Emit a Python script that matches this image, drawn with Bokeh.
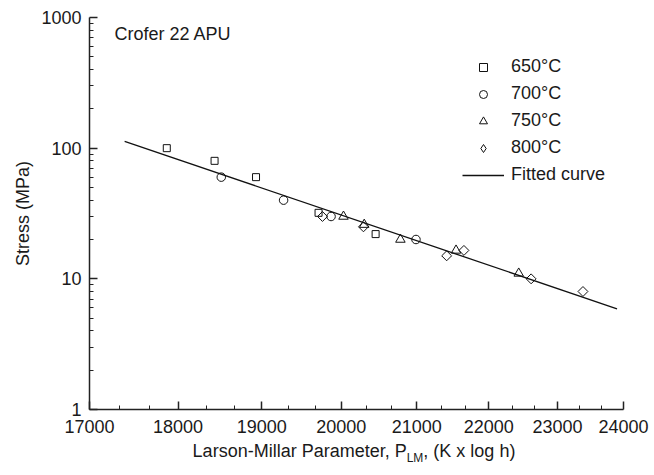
import numpy as np
from bokeh.plotting import figure
from bokeh.layouts import column
from bokeh.models import FixedTicker, NumeralTickFormatter, Legend, LegendItem, Label, Div
from bokeh.embed import file_html
from bokeh.resources import INLINE

FONT = "Liberation Sans"
TXT = "#1a1a1a"

# ---- data (Larson-Miller parameter, stress MPa) ----
p650 = [17870, 18430, 18930, 19710, 20450]
s650 = [100, 80, 60, 32, 22]

p700 = [18510, 19270, 19870, 20990]
s700 = [60, 40, 30, 20]

p750 = [20030, 20300, 20780, 21540, 22430]
s750 = [30, 26, 20, 16.5, 11]

p800 = [19760, 20290, 21410, 21650, 22610, 23380]
s800 = [30, 25, 15, 16.5, 10, 8]

fit_p = [17390, 23900]
fit_s = [112.7, 5.9]

x_ticks = [17000, 18000, 19000, 20000, 21000, 22000, 23000, 24000]
y_ticks = [1, 10, 100, 1000]
legend_labels = ["650°C", "700°C", "750°C", "800°C", "Fitted curve"]

x_minor = [a + k * 1000 / 3 for a in x_ticks[:-1] for k in (1, 2)]
y_minor = [m * d for d in (1, 10, 100) for m in range(2, 10)]

p = figure(width=654, height=440, x_axis_type="log", y_axis_type="log",
           x_range=(17000, 24000), y_range=(1, 1000),
           output_backend="svg", toolbar_location=None,
           min_border_left=89, min_border_right=31,
           min_border_top=17, min_border_bottom=31)
p.grid.visible = False
p.outline_line_color = None
p.background_fill_color = "white"
p.border_fill_color = "white"

for ax in (p.xaxis[0], p.yaxis[0]):
    ax.formatter = NumeralTickFormatter(format="0")
    ax.major_tick_in = 8
    ax.major_tick_out = 0
    ax.minor_tick_in = 4
    ax.minor_tick_out = 0
    ax.axis_line_width = 1.5
    ax.axis_line_color = "#222222"
    ax.major_tick_line_width = 1.5
    ax.major_tick_line_color = "#222222"
    ax.minor_tick_line_width = 1
    ax.minor_tick_line_color = "#222222"
    ax.major_label_text_font = FONT
    ax.major_label_text_font_size = "18px"
    ax.major_label_text_color = TXT

p.xaxis[0].ticker = FixedTicker(ticks=x_ticks, minor_ticks=x_minor)
p.yaxis[0].ticker = FixedTicker(ticks=y_ticks, minor_ticks=y_minor)
p.xaxis[0].major_label_standoff = 10
p.yaxis[0].major_label_standoff = 8
p.yaxis[0].axis_label = "Stress (MPa)"
p.yaxis[0].axis_label_text_font = FONT
p.yaxis[0].axis_label_text_font_size = "18px"
p.yaxis[0].axis_label_text_font_style = "normal"
p.yaxis[0].axis_label_text_color = TXT
p.yaxis[0].axis_label_standoff = 5

r_fit = p.line(fit_p, fit_s, line_color="#111111", line_width=1.3)
r650 = p.scatter(p650, s650, marker="square", size=7, fill_color=None,
                 line_color="#111111", line_width=1)
r700 = p.scatter(p700, s700, marker="circle", size=8.5, fill_color=None,
                 line_color="#111111", line_width=1)
r750 = p.scatter(p750, s750, marker="triangle", size=9.5, fill_color=None,
                 line_color="#111111", line_width=1)
r800 = p.scatter(p800, s800, marker="square", angle=np.pi / 4, size=7,
                 fill_color=None, line_color="#111111", line_width=1)
# legend-only glyph for the diamond (legend ignores marker angle); NaN -> not drawn in plot
r800_leg = p.scatter([np.nan], [np.nan], marker="diamond", size=14, fill_color=None,
                     line_color="#111111", line_width=1)

legend = Legend(items=[LegendItem(label=legend_labels[0], renderers=[r650]),
                       LegendItem(label=legend_labels[1], renderers=[r700]),
                       LegendItem(label=legend_labels[2], renderers=[r750]),
                       LegendItem(label=legend_labels[3], renderers=[r800_leg]),
                       LegendItem(label=legend_labels[4], renderers=[r_fit])],
                location=(373, 224), padding=0, margin=0,
                border_line_color=None, background_fill_alpha=0,
                glyph_width=42, glyph_height=20, label_height=20,
                spacing=6, label_standoff=7,
                label_text_font=FONT, label_text_font_size="18px",
                label_text_color=TXT)
p.add_layout(legend)

p.add_layout(Label(x=25, y=376, x_units="screen", y_units="screen",
                   text="Crofer 22 APU", text_font=FONT, text_font_size="18px",
                   text_color=TXT, text_baseline="alphabetic", text_align="left"))

xtitle = Div(text=("<span style='position:relative;top:-6px'>Larson-Millar Parameter, "
                   "P<sub style='font-size:12px'>LM</sub>, (K x log h)</span>"),
             width=654, height=35,
             styles={"font-family": FONT, "font-size": "18px", "color": TXT,
                     "text-align": "center", "padding-left": "44px",
                     "padding-top": "2px", "box-sizing": "border-box",
                     "line-height": "21px"})

layout = column(p, xtitle, spacing=0)
open("out.html", "w").write(file_html(layout, INLINE))
